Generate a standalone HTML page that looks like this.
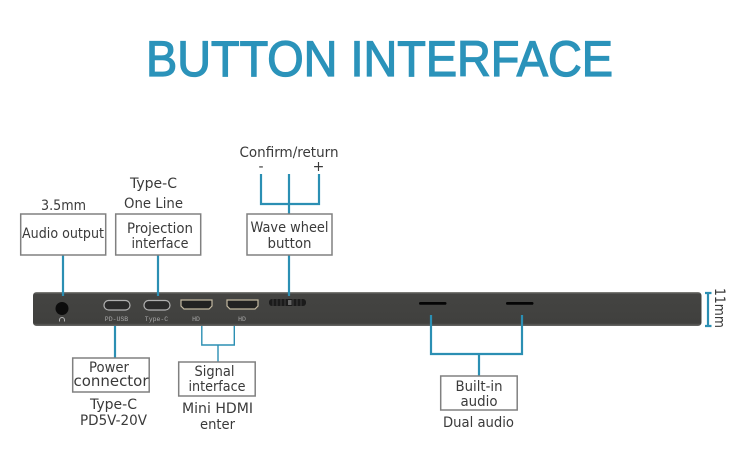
<!DOCTYPE html>
<html><head><meta charset="utf-8"><style>
html,body{margin:0;padding:0;background:#fff;width:750px;height:460px;overflow:hidden}
svg{display:block}
text{font-family:"DejaVu Sans","Liberation Sans",sans-serif;fill:#3a3a3a;font-size:14px;text-anchor:middle}
.b{fill:#fff;stroke:#808080;stroke-width:1.5}
.l{stroke:#2b8fb3;stroke-width:2.2;fill:none}
.p{font-family:"Liberation Mono",monospace;font-size:6.5px;fill:#a8a8a8}
</style></head><body>
<svg width="750" height="460" viewBox="0 0 750 460" xmlns="http://www.w3.org/2000/svg">
<defs><linearGradient id="g" x1="0" y1="0" x2="0" y2="1"><stop offset="0" stop-color="#8a8a86"/><stop offset=".06" stop-color="#444442"/><stop offset=".92" stop-color="#40403e"/><stop offset="1" stop-color="#6a6a68"/></linearGradient></defs>
<text x="379.5" y="76" textLength="467" lengthAdjust="spacingAndGlyphs" style="font-family:'Liberation Sans',sans-serif;font-size:50px;fill:#2b93ba;stroke:#2b93ba;stroke-width:1.3">BUTTON INTERFACE</text>

<rect x="33" y="292" width="668.500" height="34" rx="3.500" fill="url(#g)"/>
<circle cx="62" cy="308.500" r="6.500" fill="#0c0c0c"/>
<path d="M59.500 321.500v-1.500a2.500 2.500 0 0 1 5 0v1.500" fill="none" stroke="#b5b5b5" stroke-width="1"/>
<rect x="104" y="300.500" width="26" height="9.500" rx="4.700" fill="#2a2a2a" stroke="#b0b0b0" stroke-width="1.200"/>
<rect x="144" y="300.500" width="26" height="9.500" rx="4.700" fill="#2a2a2a" stroke="#b0b0b0" stroke-width="1.200"/>
<path d="M181 300h31v6l-3 3h-25l-3-3z" fill="#222" stroke="#c2b8a0" stroke-width="1.200"/>
<path d="M227 300h31v6l-3 3h-25l-3-3z" fill="#222" stroke="#c2b8a0" stroke-width="1.200"/>
<rect x="269" y="299" width="37" height="7" rx="3" fill="#1b1b1b"/>
<path d="M273 299v7M277 299v7M281 299v7M285 299v7M293 299v7M297 299v7M301 299v7" stroke="#3d3d3d" stroke-width="1"/>
<rect x="288" y="300" width="3.500" height="5" fill="#666"/>
<text class="p" x="116.500" y="321">PD-USB</text>
<text class="p" x="156.500" y="321">Type-C</text>
<text class="p" x="196" y="321">HD</text>
<text class="p" x="242" y="321">HD</text>
<rect x="419" y="302" width="27.500" height="2.800" rx="1.400" fill="#050505"/>
<rect x="506" y="302" width="27.500" height="2.800" rx="1.400" fill="#050505"/>

<path class="l" d="M63 255v41M158 255v41M289 255v41M289 174v40M261 174v30h58v-30"/>
<path class="l" d="M115 326v32"/>
<path d="M201.800 326v19h32.500v-19M218 345v17" fill="none" stroke="#2b8fb3" stroke-width="1.400"/>
<path class="l" d="M431 315v39h91v-39M479 354v22"/>
<path class="l" d="M705 293h6.500M705 326h6.500M708 293v33"/>

<rect class="b" x="20.700" y="214" width="85" height="41"/>
<rect class="b" x="115.700" y="214" width="85" height="41"/>
<rect class="b" x="247" y="214" width="85" height="41"/>
<rect class="b" x="72.700" y="358" width="76.500" height="34"/>
<rect class="b" x="178.700" y="362" width="76.500" height="34"/>
<rect class="b" x="440.700" y="376" width="76.500" height="34"/>

<text x="289" y="157" textLength="99" lengthAdjust="spacingAndGlyphs">Confirm/return</text>
<text x="261" y="171">-</text>
<text x="318.500" y="171">+</text>
<text x="153.500" y="188" textLength="47" lengthAdjust="spacingAndGlyphs">Type-C</text>
<text x="153.500" y="208" textLength="59" lengthAdjust="spacingAndGlyphs">One Line</text>
<text x="63.500" y="210" textLength="45" lengthAdjust="spacingAndGlyphs">3.5mm</text>
<text x="63" y="238" textLength="82" lengthAdjust="spacingAndGlyphs">Audio output</text>
<text x="160" y="233" textLength="66" lengthAdjust="spacingAndGlyphs">Projection</text>
<text x="160" y="248" textLength="57" lengthAdjust="spacingAndGlyphs">interface</text>
<text x="289.500" y="232" textLength="78" lengthAdjust="spacingAndGlyphs">Wave wheel</text>
<text x="289.500" y="248" textLength="44" lengthAdjust="spacingAndGlyphs">button</text>
<text x="109" y="372" textLength="40" lengthAdjust="spacingAndGlyphs">Power</text>
<text x="111" y="386" textLength="75" lengthAdjust="spacingAndGlyphs" style="font-size:15.500px">connector</text>
<text x="113.500" y="409" textLength="47" lengthAdjust="spacingAndGlyphs">Type-C</text>
<text x="113.500" y="425" textLength="67" lengthAdjust="spacingAndGlyphs">PD5V-20V</text>
<text x="214.500" y="376" textLength="40" lengthAdjust="spacingAndGlyphs">Signal</text>
<text x="217" y="391" textLength="57" lengthAdjust="spacingAndGlyphs">interface</text>
<text x="217.500" y="413" textLength="71" lengthAdjust="spacingAndGlyphs">Mini HDMI</text>
<text x="217.500" y="429" textLength="35" lengthAdjust="spacingAndGlyphs">enter</text>
<text x="479" y="391" textLength="47" lengthAdjust="spacingAndGlyphs">Built-in</text>
<text x="479" y="406" textLength="37" lengthAdjust="spacingAndGlyphs">audio</text>
<text x="478.500" y="427" textLength="71" lengthAdjust="spacingAndGlyphs">Dual audio</text>
<text transform="translate(715,308) rotate(90)" x="0" y="0" textLength="40" lengthAdjust="spacingAndGlyphs">11mm</text>
</svg>
</body></html>
